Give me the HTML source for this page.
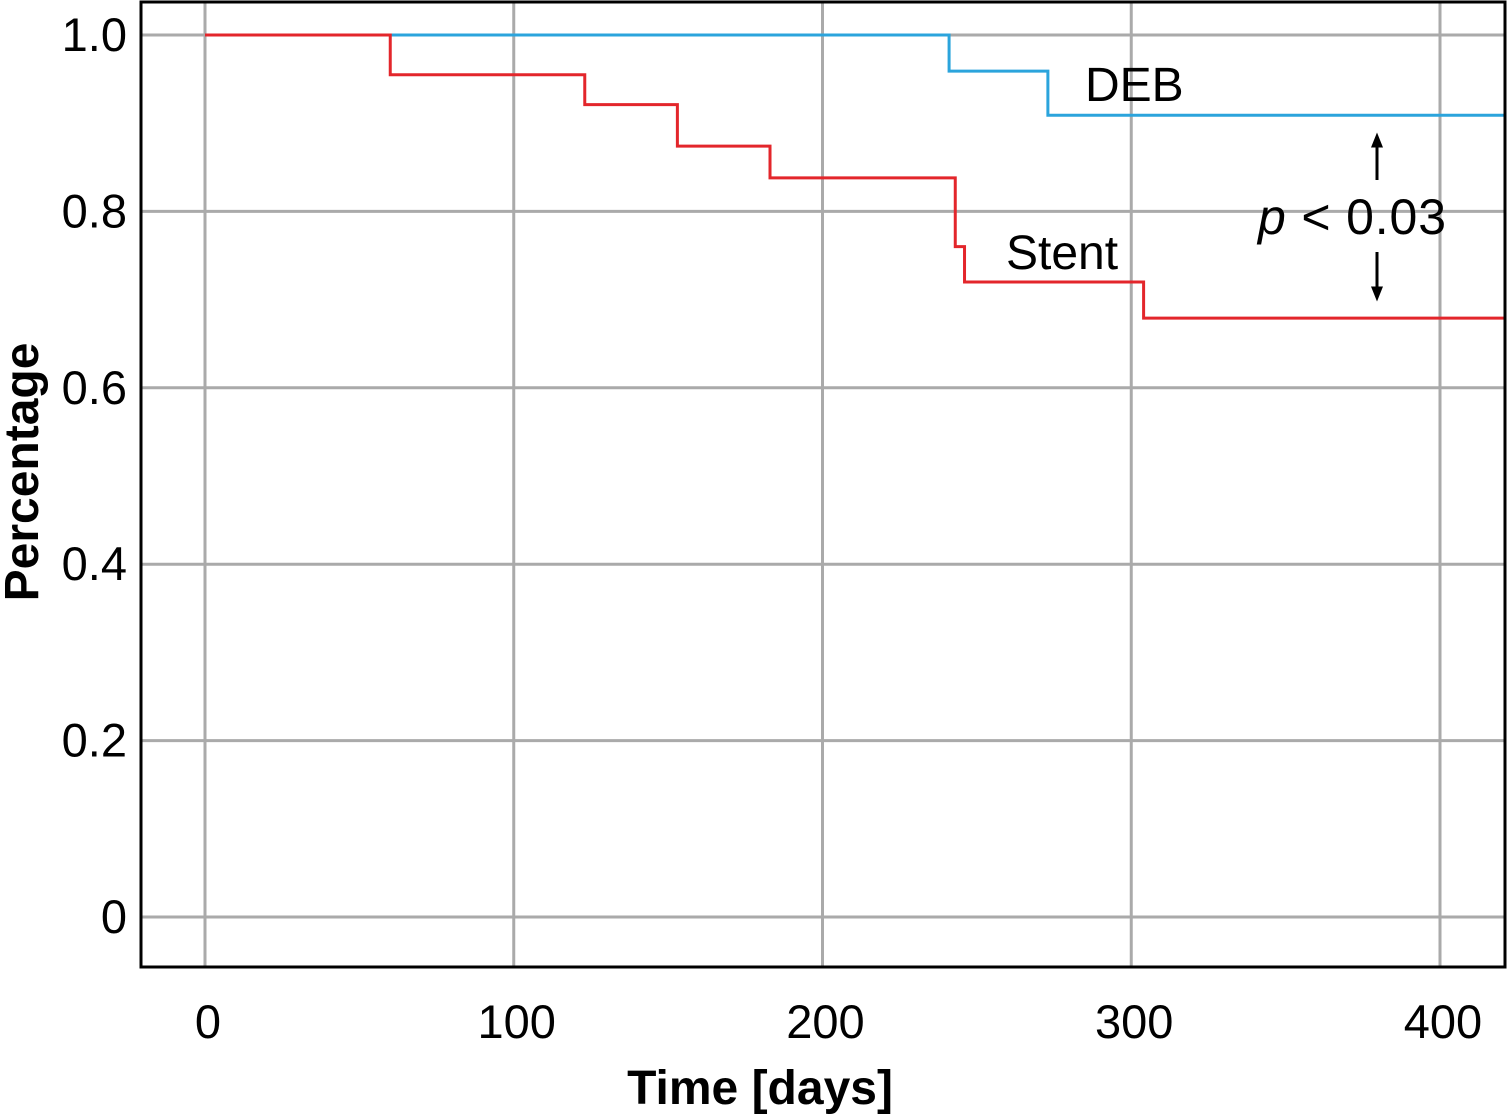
<!DOCTYPE html>
<html><head><meta charset="utf-8"><style>
html,body{margin:0;padding:0;background:#fff;}
svg{display:block;font-family:"Liberation Sans","DejaVu Sans",sans-serif;}
</style></head><body>
<svg id="chart" width="1508" height="1117" viewBox="0 0 1508 1117" xmlns="http://www.w3.org/2000/svg">
<defs>
<marker id="ah" markerWidth="5" markerHeight="5" refX="2.5" refY="2.5" orient="auto"><path d="M0,0.5 L5,2.5 L0,4.5 z" fill="#000"/></marker>
</defs>
<g id="grid"></g>
<g id="series"></g>
<rect x="141" y="2" width="1364" height="965" fill="none" stroke="#000" stroke-width="3"/>
<g id="ticks"></g>
<text x="760" y="1104" font-size="48" font-weight="bold" text-anchor="middle">Time [days]</text>
<text transform="translate(38,472) rotate(-90)" font-size="48" font-weight="bold" text-anchor="middle">Percentage</text>
<text x="1085" y="101" font-size="48">DEB</text>
<text x="1006" y="269" font-size="48">Stent</text>
<text x="1258" y="234" font-size="50" textLength="188"><tspan font-style="italic">p</tspan> &lt; 0.03</text>
<line x1="1377" y1="180" x2="1377" y2="140" stroke="#000" stroke-width="3" marker-end="url(#ah)"/>
<line x1="1377" y1="252" x2="1377" y2="294" stroke="#000" stroke-width="3" marker-end="url(#ah)"/>
</svg>
<script>
const xTicks=[0,100,200,300,400];
const yTicks=[0,0.2,0.4,0.6,0.8,1.0];
const yTickLabels=["0","0.2","0.4","0.6","0.8","1.0"];
const stentTimes=[0,60,123,153,183,243,246,304,421];
const stentValues=[1.0,0.955,0.921,0.874,0.838,0.760,0.720,0.679,0.679];
const debTimes=[0,241,273,421];
const debValues=[1.0,0.959,0.909,0.909];
const NS="http://www.w3.org/2000/svg";
function xs(t){return 205+t*3.0875;}
function ys(v){return 917-v*882;}
function mk(tag,attrs,parent){const e=document.createElementNS(NS,tag);for(const k in attrs)e.setAttribute(k,attrs[k]);parent.appendChild(e);return e;}
const grid=document.getElementById('grid'),ticks=document.getElementById('ticks'),series=document.getElementById('series');
xTicks.forEach(t=>{
 const l=mk('line',{x1:xs(t),x2:xs(t),y1:2,y2:967,stroke:'#aaa','stroke-width':3},grid);
 
 
 const tx=mk('text',{x:xs(t)+3,y:1038,'font-size':47,'text-anchor':'middle'},ticks);
 tx.textContent=t;
 
 
});
yTicks.forEach((v,i)=>{
 const l=mk('line',{x1:141,x2:1505,y1:ys(v),y2:ys(v),stroke:'#aaa','stroke-width':3},grid);
 
 
 const tx=mk('text',{x:127,y:ys(v)+16,'font-size':47,'text-anchor':'end'},ticks);
 tx.textContent=yTickLabels[i];
 
 
});
function stepPath(ts,vs){let d='M'+xs(ts[0])+','+ys(vs[0]);for(let i=1;i<ts.length;i++){d+=' H'+xs(ts[i])+' V'+ys(vs[i]);}return d;}
const deb=mk('path',{d:stepPath(debTimes,debValues),fill:'none',stroke:'#2ba4dc','stroke-width':3},series);


const st=mk('path',{d:stepPath(stentTimes,stentValues),fill:'none',stroke:'#e3262b','stroke-width':3},series);


</script>
</body></html>
